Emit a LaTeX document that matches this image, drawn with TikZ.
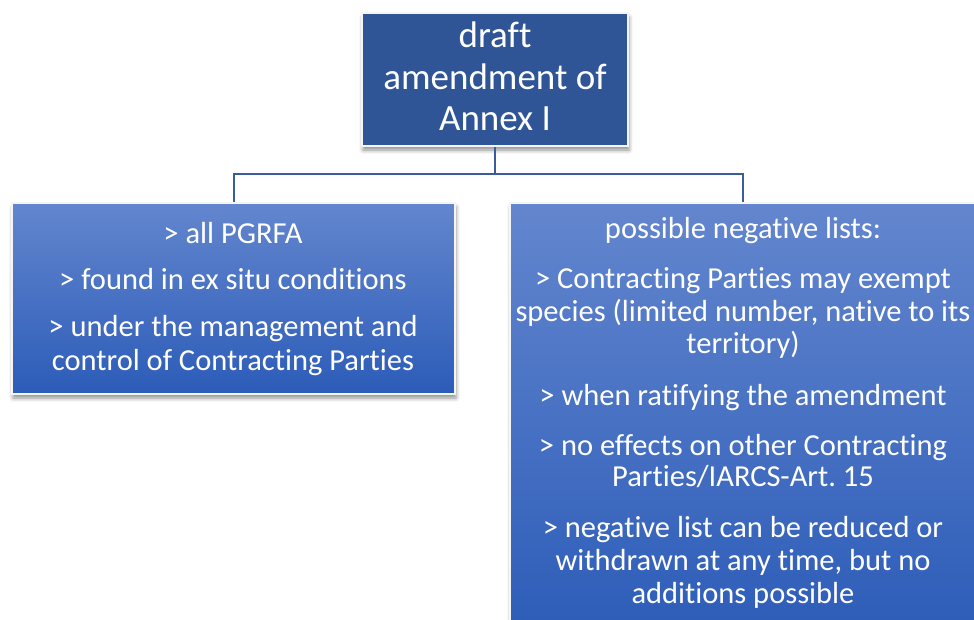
\documentclass[tikz,border=0pt]{standalone}
\usepackage{fontspec}
\setmainfont{Carlito}[Ligatures={NoCommon}]
\usetikzlibrary{shadows.blur}
\definecolor{topblue}{HTML}{2F5597}
\definecolor{gtop}{HTML}{6386CE}
\definecolor{gbot}{HTML}{2C5CB8}
\definecolor{linkblue}{HTML}{3A5C9C}
\frenchspacing
\begin{document}
\begin{tikzpicture}[x=1pt,y=-1pt,
  box/.style={draw=white!92!gray, line width=1.5pt, inner sep=0pt,
    blur shadow={shadow xshift=1pt, shadow yshift=-4pt, shadow blur radius=4pt, shadow opacity=45}},
  topbox/.style={box, fill=topblue},
  gradbox/.style={box, top color=gtop, bottom color=gbot},
  bigtxt/.style={text=white, inner sep=0pt, anchor=base, font=\fontsize{37}{41}\selectfont},
  txt/.style={text=white, inner sep=0pt, anchor=base, font=\fontsize{30.5}{33.5}\selectfont},
  link/.style={draw=linkblue, line width=2pt}]
\useasboundingbox (0,0) rectangle (974,619);
% boxes
\node[topbox, minimum width=266pt, minimum height=133pt] (top) at (495,79.5) {};
\node[gradbox, minimum width=443pt, minimum height=191pt] (left) at (233.5,298.5) {};
\node[gradbox, minimum width=466pt, minimum height=437pt] (right) at (743,421.5) {};
% connectors
\coordinate (hub) at ([yshift=-27.5pt]top.south);
\draw[link] (top.south) -- (hub) -| (left.north);
\draw[link] (hub) -| (right.north);
% top text
\node[bigtxt] (t1) at (495,47.5) {draft};
\node[bigtxt] (t2) at (495,89) {amendment of};
\node[bigtxt] (t3) at (495,130.5) {Annex I};
% left text
\node[txt] (l1) at (233,243.3) {> all PGRFA};
\node[txt] (l2) at (233,289.3) {> found in ex situ conditions};
\node[txt] (l3) at (233,336.7) {> under the management and};
\node[txt] (l4) at (233,370) {control of Contracting Parties};
% right text
\node[txt] (r1) at (743,238.3) {possible negative lists:};
\node[txt] (r2) at (743,288.3) {> Contracting Parties may exempt};
\node[txt] (r3) at (743,321.7) {species (limited number, native to its};
\node[txt] (r4) at (743,353.3) {territory)};
\node[txt] (r5) at (743,405) {> when ratifying the amendment};
\node[txt] (r6) at (743,455) {> no effects on other Contracting};
\node[txt] (r7) at (743,486.7) {Parties/IARCS-Art. 15};
\node[txt] (r8) at (743,537.3) {> negative list can be reduced or};
\node[txt] (r9) at (743,570.7) {withdrawn at any time, but no};
\node[txt] (r10) at (743,603.3) {additions possible};
\end{tikzpicture}
\end{document}
